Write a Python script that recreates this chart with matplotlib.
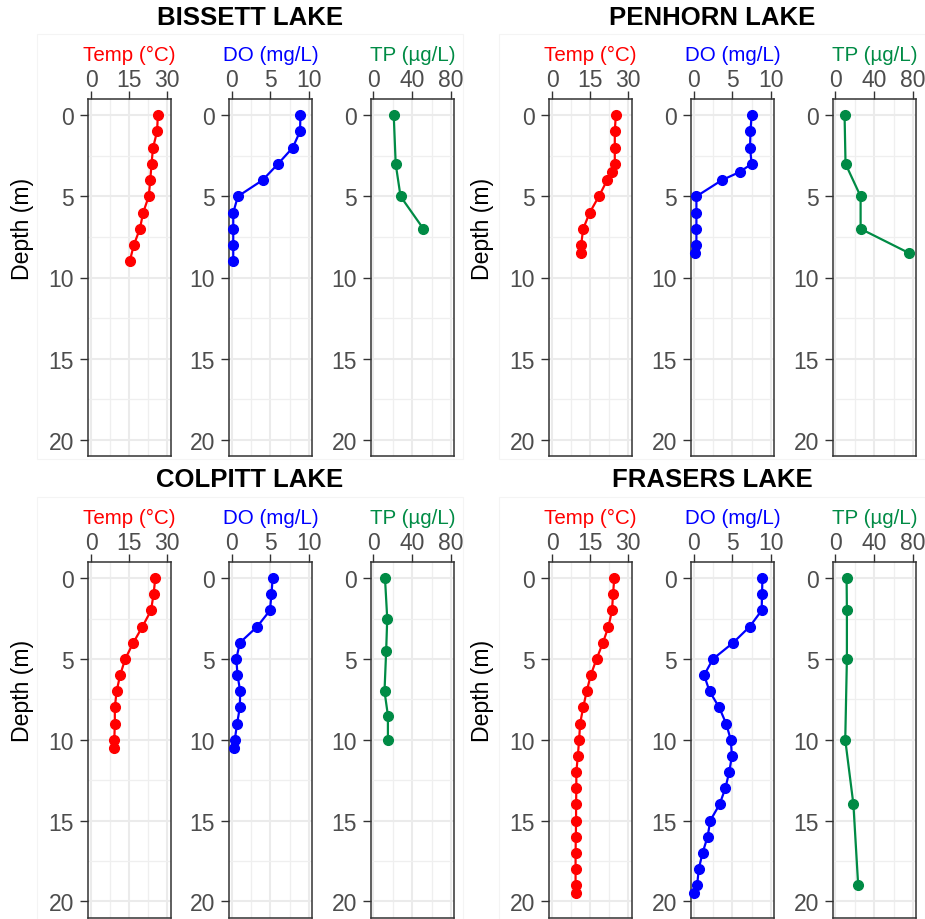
import matplotlib.pyplot as plt
import matplotlib.patches as mpatches

# figure size in pixels
W, H = 925, 920

# ---- data ----
lake_names = ['BISSETT LAKE', 'PENHORN LAKE', 'COLPITT LAKE', 'FRASERS LAKE']

bissett_depth = [0, 1, 2, 3, 4, 5, 6, 7, 8, 9]
bissett_temp = [26.4, 26.1, 24.5, 23.9, 23.4, 22.8, 20.6, 19.3, 16.9, 15.3]
bissett_do = [8.9, 8.85, 7.9, 6.0, 4.0, 0.8, 0.2, 0.2, 0.2, 0.2]
bissett_tp_depth = [0, 3, 5, 7]
bissett_tp = [21, 23, 28, 51.5]

penhorn_depth = [0, 1, 2, 3, 3.5, 4, 5, 6, 7, 8, 8.5]
penhorn_temp = [25.2, 24.8, 24.8, 24.8, 23.7, 21.8, 18.5, 14.9, 12.3, 11.5, 11.5]
penhorn_do = [7.5, 7.35, 7.3, 7.5, 5.95, 3.65, 0.35, 0.35, 0.35, 0.35, 0.2]
penhorn_tp_depth = [0, 3, 5, 7, 8.5]
penhorn_tp = [9.5, 10.5, 26, 26, 76]

colpitt_depth = [0, 1, 2, 3, 4, 5, 6, 7, 8, 9, 10, 10.5]
colpitt_temp = [25.4, 24.7, 23.7, 20.3, 16.7, 13.5, 11.5, 10.1, 9.4, 9.4, 9.2, 9.2]
colpitt_do = [5.3, 5.15, 4.95, 3.3, 1.05, 0.6, 0.75, 1.1, 1.05, 0.7, 0.4, 0.35]
colpitt_tp_depth = [0, 2.5, 4.5, 7, 8.5, 10]
colpitt_tp = [12, 14.3, 13.2, 11.5, 15, 15]

frasers_depth = [0, 1, 2, 3, 4, 5, 6, 7, 8, 9, 10, 11, 12, 13, 14, 15, 16, 17, 18, 19, 19.5]
frasers_temp = [24.6, 24.1, 23.7, 22.3, 20.1, 17.6, 15.3, 13.7, 12.3, 11.1, 10.7,
                10.2, 9.6, 9.6, 9.5, 9.5, 9.4, 9.3, 9.3, 9.3, 9.3]
frasers_do = [8.9, 8.85, 8.8, 7.25, 5.1, 2.5, 1.35, 2.05, 3.3, 4.2, 4.8,
              4.95, 4.6, 4.1, 3.35, 2.15, 1.8, 1.15, 0.65, 0.45, 0.1]
frasers_tp_depth = [0, 2, 5, 10, 14, 19]
frasers_tp = [11.6, 11.9, 11.9, 10.2, 18.6, 23.5]

lakes = [
    (bissett_depth, bissett_temp, bissett_do, bissett_tp_depth, bissett_tp),
    (penhorn_depth, penhorn_temp, penhorn_do, penhorn_tp_depth, penhorn_tp),
    (colpitt_depth, colpitt_temp, colpitt_do, colpitt_tp_depth, colpitt_tp),
    (frasers_depth, frasers_temp, frasers_do, frasers_tp_depth, frasers_tp),
]

var_labels = ['Temp (°C)', 'DO (mg/L)', 'TP (µg/L)']
var_colors = ['#FF0000', '#0000FF', '#008B45']
var_xlims = [(-1.2, 31.6), (-0.35, 10.4), (-2.4, 83)]
var_ticks = [[0, 15, 30], [0, 5, 10], [0, 40, 80]]
var_minor = [7.5, 2.5, 20]

plt.rcParams['font.family'] = ['Liberation Sans', 'DejaVu Sans']

fig = plt.figure(figsize=(W / 100, H / 100), dpi=100)

# block layout in pixels
col_lefts = [[88, 229, 371], [549, 691, 833]]
row_tb = [(100, 457), (563, 918.5)]
title_x = [250, 712]
title_y = [18, 480]
depth_x = [22, 483]
depth_y = [229, 691]


def fx(px):
    return px / W


def fy(py):
    return 1 - py / H


for k, name in enumerate(lake_names):
    r, c = k // 2, k % 2
    top, bot = row_tb[r]
    depth, temp, do, tp_depth, tp = lakes[k]
    series = [(temp, depth), (do, depth), (tp, tp_depth)]

    # faint background box of each lake block
    bx0 = 37 + c * 462
    by0 = 35 + r * 463
    fig.patches.append(mpatches.Rectangle((fx(bx0), fy(by0 + 425)), fx(426), 425 / H,
                                          transform=fig.transFigure, fill=False,
                                          edgecolor='#F4F4F4', linewidth=0.8, zorder=0))

    for j in range(3):
        left = col_lefts[c][j]
        ax = fig.add_axes([fx(left), fy(bot), fx(83), (bot - top) / H])
        vals, dep = series[j]
        ax.plot(vals, dep, color=var_colors[j], linewidth=1.6, marker='o',
                markersize=7, zorder=3, clip_on=False)
        ax.set_xlim(*var_xlims[j])
        ax.set_ylim(21, -1)
        ax.set_xticks(var_ticks[j])
        ax.set_xticks([t + var_minor[j] for t in var_ticks[j][:-1]], minor=True)
        ax.set_yticks([0, 5, 10, 15, 20])
        ax.set_yticks([2.5, 7.5, 12.5, 17.5], minor=True)
        ax.xaxis.tick_top()
        ax.xaxis.set_label_position('top')
        ax.grid(which='major', color='#EBEBEB', linewidth=1.5, zorder=0)
        ax.grid(which='minor', color='#EFEFEF', linewidth=0.9, zorder=0)
        ax.set_axisbelow(True)
        ax.tick_params(which='major', length=5.5, width=1.0, color='#333333',
                       labelsize=16.5, labelcolor='#4D4D4D')
        ax.tick_params(axis='x', which='major', pad=0.5)
        ax.tick_params(axis='y', which='major', pad=4.5)
        ax.tick_params(which='minor', length=0)
        for s in ax.spines.values():
            s.set_color('#333333')
            s.set_linewidth(1.1)
        ax.set_xlabel(var_labels[j], color=var_colors[j], fontsize=14.8, labelpad=5.5)

    fig.text(fx(title_x[c]), fy(title_y[r]), name, ha='center', va='center',
             fontsize=18.5, fontweight='bold', color='black')
    fig.text(fx(depth_x[c]), fy(depth_y[r]), 'Depth (m)', ha='center', va='center',
             rotation=90, fontsize=16.6, color='black')

fig.savefig('out.png', dpi=100, facecolor='white')
